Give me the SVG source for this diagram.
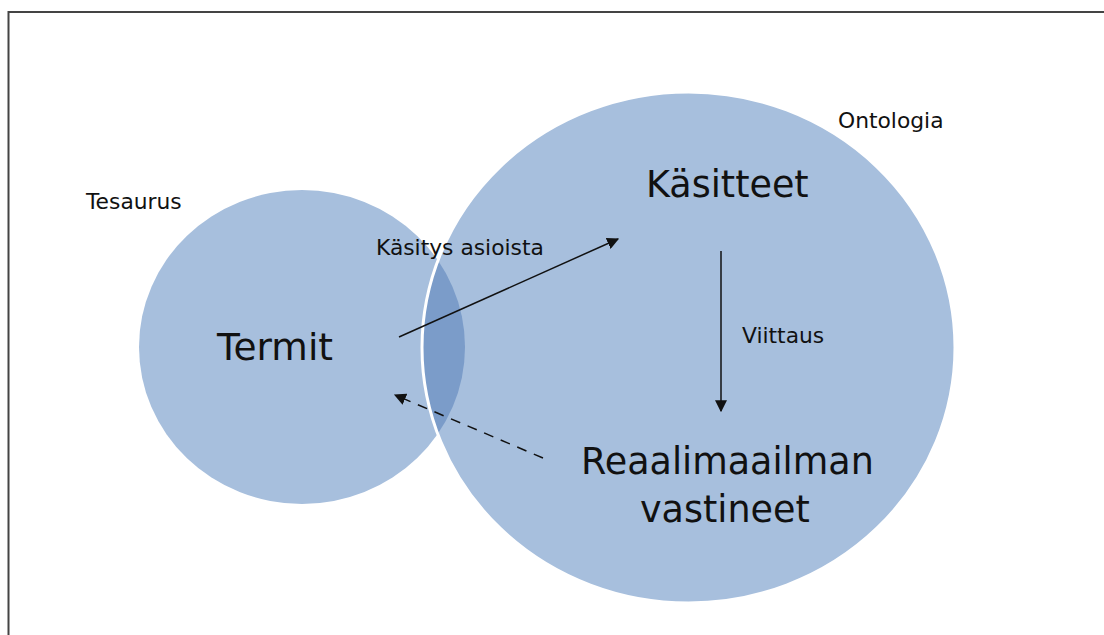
<svg xmlns="http://www.w3.org/2000/svg" width="1104" height="635" viewBox="0 0 1104 635">
  <style>
    .small { font-family: "DejaVu Sans", Verdana, sans-serif; font-size: 21.8px; fill: #111; }
    .big { font-family: "DejaVu Sans", Verdana, sans-serif; font-size: 36.5px; fill: #111; }
    .blob { fill: #a7bfdd; }
    .link { stroke: #111; stroke-width: 1.5; fill: none; }
  </style>
  <defs>
    <marker id="head" viewBox="0 0 10 10" refX="9" refY="5" markerWidth="12" markerHeight="12" markerUnits="userSpaceOnUse" orient="auto">
      <path d="M0,0 L10,5 L0,10 Z" fill="#111"/>
    </marker>
    <clipPath id="leftClip">
      <ellipse cx="302" cy="347" rx="163" ry="157"/>
    </clipPath>
  </defs>

  <rect width="1104" height="635" fill="#ffffff"/>
  <!-- outer frame, open past the right and bottom edges -->
  <rect x="8.5" y="12" width="1200" height="700" fill="none" stroke="#444" stroke-width="2"/>

  <g id="tesaurus">
    <ellipse class="blob" cx="302" cy="347" rx="163" ry="157"/>
    <text class="small" x="86" y="209">Tesaurus</text>
    <text class="big" x="217" y="360" style="font-size:37.5px">Termit</text>
  </g>

  <g id="ontologia">
    <ellipse class="blob" cx="688.5" cy="347.5" rx="266.5" ry="255.5"/>
    <!-- overlap of the two areas -->
    <ellipse cx="688.5" cy="347.5" rx="266.5" ry="255.5" fill="#7b9cc9" clip-path="url(#leftClip)"/>
    <ellipse cx="688.5" cy="347.5" rx="266.5" ry="255.5" fill="none" stroke="#ffffff" stroke-width="3"/>
    <text class="small" x="838" y="128">Ontologia</text>
  </g>

  <g id="kasitteet">
    <text class="big" x="646" y="197">Käsitteet</text>
  </g>

  <g id="vastineet">
    <text class="big" x="581" y="474">Reaalimaailman</text>
    <text class="big" x="640" y="522">vastineet</text>
  </g>

  <g id="connectors">
    <line class="link" x1="399" y1="337" x2="618" y2="239" marker-end="url(#head)"/>
    <text class="small" x="376" y="255">Käsitys asioista</text>
    <line class="link" x1="721" y1="251" x2="721" y2="411" marker-end="url(#head)"/>
    <text class="small" x="742" y="343">Viittaus</text>
    <line class="link" x1="543" y1="458" x2="395" y2="395" stroke-dasharray="10 8" marker-end="url(#head)"/>
  </g>
</svg>
